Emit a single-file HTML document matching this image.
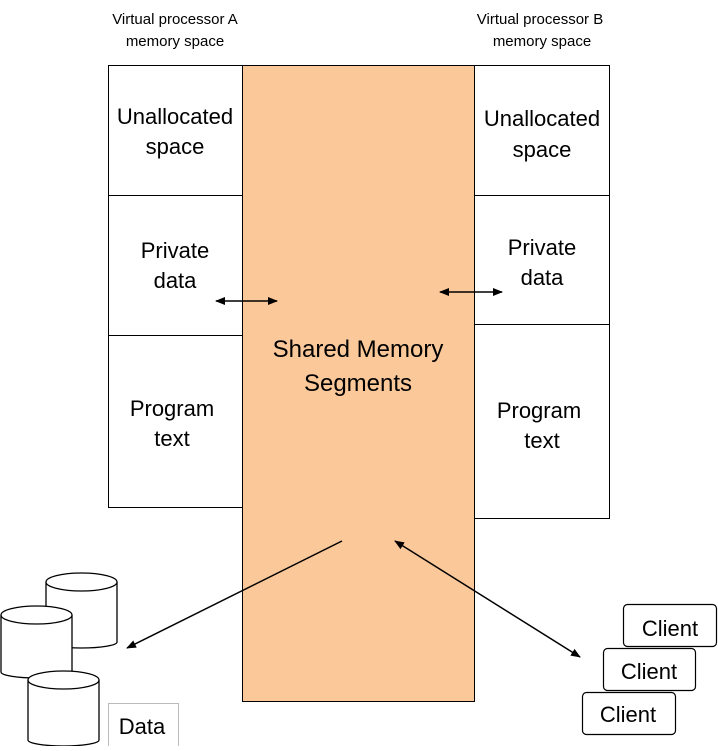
<!DOCTYPE html>
<html><head><style>
body{margin:0;background:#fff;}
</style></head><body>
<svg width="718" height="746" xmlns="http://www.w3.org/2000/svg" font-family="Liberation Sans, sans-serif">
<defs><marker id="a" markerWidth="10" markerHeight="8" refX="9" refY="4" orient="auto-start-reverse" markerUnits="userSpaceOnUse"><path d="M0,0 L10,4 L0,8 z" fill="#000"/></marker></defs>
<rect x="0" y="0" width="718" height="746" fill="#fff"/>
<text x="175" y="24" font-size="15" text-anchor="middle">Virtual processor A</text>
<text x="175" y="46" font-size="15" text-anchor="middle">memory space</text>
<text x="540" y="24" font-size="15" text-anchor="middle">Virtual processor B</text>
<text x="542" y="46" font-size="15" text-anchor="middle">memory space</text>
<g fill="#fff" stroke="#000" stroke-width="1">
<rect x="108.5" y="65.5" width="134" height="130"/>
<rect x="108.5" y="195.5" width="134" height="140"/>
<rect x="108.5" y="335.5" width="134" height="172"/>
<rect x="474.5" y="65.5" width="135" height="130"/>
<rect x="474.5" y="195.5" width="135" height="129"/>
<rect x="474.5" y="324.5" width="135" height="194"/>
</g>
<rect x="242.5" y="65.5" width="232" height="636" fill="#fbc89a" stroke="#000"/>
<g font-size="22" text-anchor="middle">
<text x="175" y="124">Unallocated</text><text x="175" y="154">space</text>
<text x="175" y="258">Private</text><text x="175" y="288">data</text>
<text x="172" y="416">Program</text><text x="172" y="446">text</text>
<text x="542" y="126">Unallocated</text><text x="542" y="157">space</text>
<text x="542" y="255">Private</text><text x="542" y="285">data</text>
<text x="539" y="418">Program</text><text x="542" y="448">text</text>
</g>
<text x="358" y="357" font-size="24" text-anchor="middle">Shared Memory</text><text x="358" y="391" font-size="24" text-anchor="middle">Segments</text>
<g stroke="#000" stroke-width="1.5" marker-start="url(#a)" marker-end="url(#a)">
<line x1="216" y1="301" x2="277" y2="301"/>
<line x1="440" y1="292" x2="502" y2="292"/>
<line x1="395" y1="541" x2="580" y2="657"/>
</g>
<line x1="342" y1="541" x2="127" y2="648" stroke="#000" stroke-width="1.5" marker-end="url(#a)"/>
<g fill="#fff" stroke="#000" stroke-width="1.3">
<path d="M46,582 L46,642 A35.5,6 0 0 0 117,642 L117,582"/><ellipse cx="81.5" cy="582" rx="35.5" ry="9"/>
<path d="M1,615 L1,672 A35.5,6 0 0 0 72,672 L72,615"/><ellipse cx="36.5" cy="615" rx="35.5" ry="9"/>
<path d="M28,680 L28,740 A35.5,6 0 0 0 99,740 L99,680"/><ellipse cx="63.5" cy="680" rx="35.5" ry="9"/>
</g>
<rect x="108.5" y="703.5" width="70" height="43" fill="#fff" stroke="#bbb"/>
<text x="142" y="734" font-size="22" text-anchor="middle">Data</text>
<g fill="#fff" stroke="#000" stroke-width="1.2">
<rect x="623.5" y="604.5" width="93" height="42" rx="4"/>
<rect x="603.5" y="648.5" width="92" height="42" rx="4"/>
<rect x="582.5" y="692.5" width="93" height="42" rx="4"/>
</g>
<g font-size="22" text-anchor="middle">
<text x="670" y="636">Client</text>
<text x="649" y="679">Client</text>
<text x="628" y="722">Client</text>
</g>
</svg>
</body></html>
